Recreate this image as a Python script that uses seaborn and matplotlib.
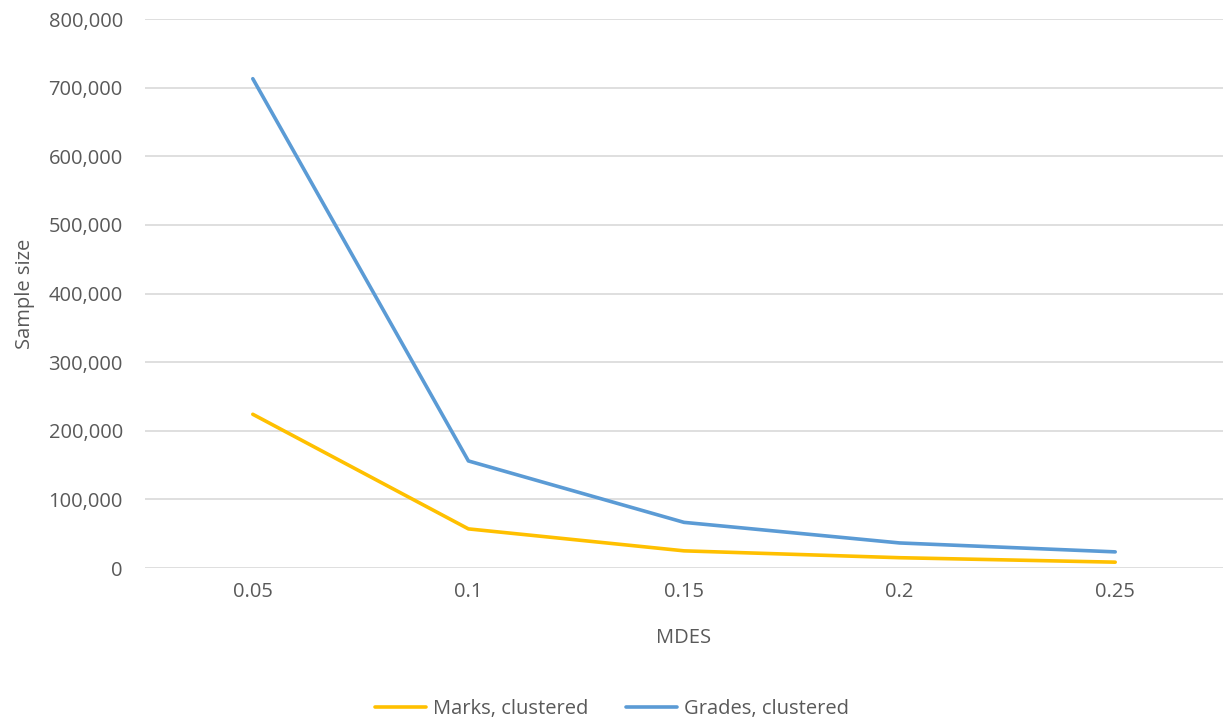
import matplotlib
matplotlib.use("Agg")
import matplotlib.pyplot as plt
import matplotlib.ticker as mticker
import pandas as pd
import seaborn as sns

mdes = ["0.05", "0.1", "0.15", "0.2", "0.25"]
marks_clustered = [224000, 57000, 25000, 15000, 8500]
grades_clustered = [713000, 156000, 66500, 36500, 23500]
series_names = ["Marks, clustered", "Grades, clustered"]
colors = ["#FFC000", "#5B9BD5"]

df = pd.concat([
    pd.DataFrame({"MDES": mdes, "Sample size": marks_clustered, "series": series_names[0]}),
    pd.DataFrame({"MDES": mdes, "Sample size": grades_clustered, "series": series_names[1]}),
])

sns.set_theme(style="white")
plt.rcParams["font.family"] = ["Open Sans", "DejaVu Sans"]
text_color = "#595959"
fs = 14.5

fig = plt.figure(figsize=(12.24, 7.24), dpi=100)
ax = fig.add_axes([145 / 1224, 1 - 568 / 724, 1078 / 1224, 549 / 724])

sns.lineplot(data=df, x="MDES", y="Sample size", hue="series",
             palette=dict(zip(series_names, colors)), linewidth=2.6,
             sort=False, ax=ax, legend=False)

ax.set_xlim(-0.5, 4.5)
ax.set_ylim(0, 800000)
ax.yaxis.set_major_locator(mticker.MultipleLocator(100000))
ax.yaxis.set_major_formatter(mticker.FuncFormatter(lambda v, p: f"{int(v):,}"))
ax.grid(axis="y", color="#d9d9d9", linewidth=1.2)
ax.set_axisbelow(True)
for s in ax.spines.values():
    s.set_visible(False)
ax.tick_params(axis="both", length=0, labelsize=fs, colors=text_color)
ax.tick_params(axis="y", pad=16)
ax.tick_params(axis="x", pad=10)
ax.set_xlabel("MDES", fontsize=fs, color=text_color, labelpad=19)
ax.set_ylabel("Sample size", fontsize=fs, color=text_color, labelpad=10)

handles = [plt.Line2D([], [], color=c, linewidth=2.6) for c in colors]
fig.legend(handles, series_names, loc="center", bbox_to_anchor=(0.5, 1 - 709 / 724),
           ncol=2, frameon=False, fontsize=fs, labelcolor=text_color,
           handlelength=2.5, handletextpad=0.35, columnspacing=1.9)

fig.savefig("out.png", dpi=100)
